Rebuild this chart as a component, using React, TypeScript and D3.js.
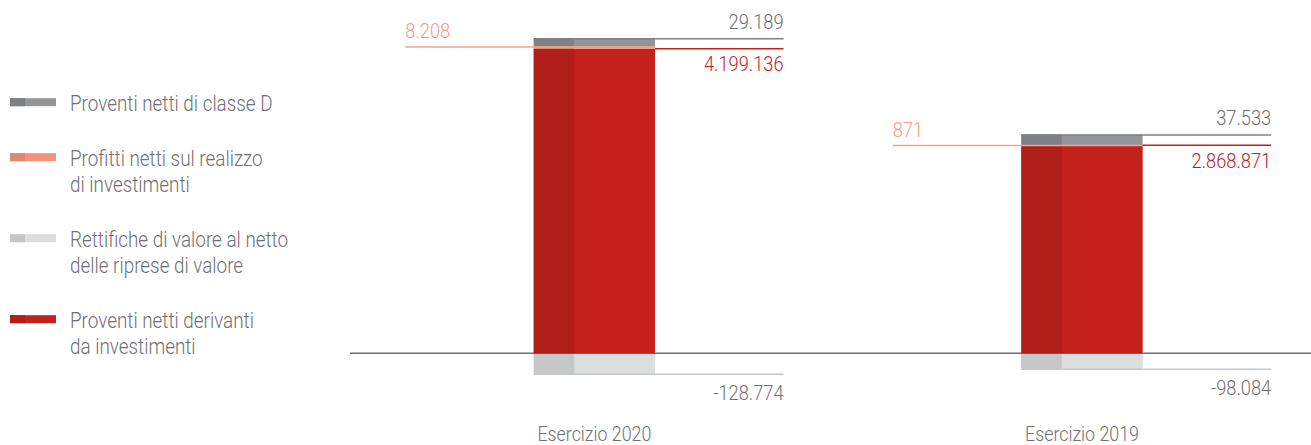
import * as d3 from "d3";

const categories = ["Esercizio 2020", "Esercizio 2019"];
const proventiNetti = [4199136, 2868871];
const profittiRealizzo = [8208, 871];
const proventiClasseD = [29189, 37533];
const rettifiche = [-128774, -98084];

const legendLabels = [
  ["Proventi netti di classe D"],
  ["Profitti netti sul realizzo", "di investimenti"],
  ["Rettifiche di valore al netto", "delle riprese di valore"],
  ["Proventi netti derivanti", "da investimenti"],
];
const legendColors = [
  ["#7f8084", "#949599"],
  ["#de8670", "#f3937a"],
  ["#c6c7c9", "#dcdddf"],
  ["#b01f1a", "#c4211d"],
];

const W = 1311;
const H = 445;
const FONT = "Roboto, 'Open Sans', sans-serif";
const SQUEEZE = 0.87;
const TEXT = "#6f7073";

const it = d3.formatLocale({
  decimal: ",",
  thousands: ".",
  grouping: [3],
  currency: ["€", ""],
  minus: "-",
});
const fmt = it.format(",d");

// condensed look: Roboto Light squeezed horizontally
const Label = ({ x, y, size, fill, anchor = "start", children }: any) => (
  <text
    transform={`translate(${x},${y}) scale(${SQUEEZE},1)`}
    textAnchor={anchor}
    fontSize={size}
    fontWeight={300}
    fontFamily={FONT}
    fill={fill}
  >
    {children}
  </text>
);

export default function App() {
  const baseY = 353.3;
  const barW = 121.3;
  const ext = 128.5;

  const x = d3.scalePoint<string>().domain(categories).range([594.4, 1082]);
  // main bar scale
  const yMain = d3.scaleLinear().domain([0, 4199136]).range([0, 304.5]);
  // small stacked components are drawn exaggerated in the original
  const yTop = d3.scaleLinear().domain([0, 37533]).range([0, 10.5]);
  const yNeg = d3.scaleLinear().domain([0, -128774]).range([0, 21]);

  return (
    <svg
      width={W}
      height={H}
      style={{ position: "absolute", left: 0, top: 0, background: "#fff" }}
    >
      {/* legend */}
      {(() => {
        let by = 110.7;
        return legendLabels.map((lines, i) => {
          const y0 = by;
          by += lines.length * 26 + 29;
          return (
            <g key={i}>
              <rect x={10} y={y0 - 12.5} width={46} height={8} fill={legendColors[i][1]} />
              <rect x={10} y={y0 - 12.5} width={15} height={8} fill={legendColors[i][0]} />
              {lines.map((l, j) => (
                <Label key={j} x={70} y={y0 + j * 26} size={21.7} fill={TEXT}>
                  {l}
                </Label>
              ))}
            </g>
          );
        });
      })()}

      {/* axis */}
      <line x1={350} x2={W} y1={baseY} y2={baseY} stroke="#6d6e71" strokeWidth={1.5} />

      {categories.map((c, i) => {
        const cx = x(c)!;
        const left = cx - barW / 2;
        const right = cx + barW / 2;
        const third = barW / 3;
        const redTop = baseY - yMain(proventiNetti[i]);
        const orangeTop = redTop - yTop(profittiRealizzo[i]);
        const grayTop = orangeTop - yTop(proventiClasseD[i]);
        const negBottom = baseY + yNeg(rettifiche[i]);
        const seg = (y0: number, y1: number, cols: string[]) => (
          <>
            <rect x={left} y={y0} width={barW} height={y1 - y0} fill={cols[1]} />
            <rect x={left} y={y0} width={third} height={y1 - y0} fill={cols[0]} />
          </>
        );
        return (
          <g key={c}>
            {seg(redTop, baseY, legendColors[3])}
            {seg(orangeTop, redTop, legendColors[1])}
            {seg(grayTop, orangeTop, legendColors[0])}
            {seg(baseY + 0.8, negBottom, legendColors[2])}

            {/* leader lines */}
            <line x1={left - ext} x2={right} y1={orangeTop + 0.5} y2={orangeTop + 0.5} stroke="#f4a28c" strokeWidth={1.5} />
            <line x1={left} x2={right + ext} y1={grayTop + 0.5} y2={grayTop + 0.5} stroke="#7f8084" strokeWidth={1.5} />
            <line x1={right} x2={right + ext} y1={redTop} y2={redTop} stroke="#c4211d" strokeWidth={1.5} />
            <line x1={left} x2={right + ext} y1={negBottom} y2={negBottom} stroke="#c6c7c9" strokeWidth={1.5} />

            {/* values */}
            <Label x={left - ext} y={orangeTop - 8.5} size={21} fill="#f29b82">
              {fmt(profittiRealizzo[i])}
            </Label>
            <Label x={right + ext} y={grayTop - 9.2} size={21} fill={TEXT} anchor="end">
              {fmt(proventiClasseD[i])}
            </Label>
            <Label x={right + ext} y={redTop + 22.5} size={21} fill="#c4211d" anchor="end">
              {fmt(proventiNetti[i])}
            </Label>
            <Label x={right + ext} y={negBottom + 25.5} size={21} fill={TEXT} anchor="end">
              {fmt(rettifiche[i])}
            </Label>

            <Label x={cx} y={441} size={20.5} fill={TEXT} anchor="middle">
              {c}
            </Label>
          </g>
        );
      })}
    </svg>
  );
}
